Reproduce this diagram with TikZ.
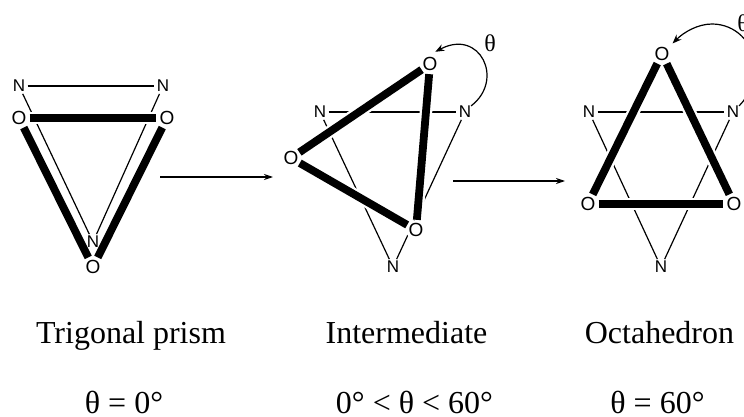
\documentclass[tikz,border=0pt]{standalone}
\usepackage{fontspec}
\setmainfont{Liberation Serif}
\newfontfamily\atomfont{Liberation Sans}
\usetikzlibrary{arrows.meta,backgrounds}
\tikzset{
  x=1pt,y=-1pt,
  atomN/.style={circle,inner sep=0pt,minimum size=16pt,font=\atomfont\fontsize{17}{18}\selectfont},
  atomO/.style={circle,inner sep=0pt,minimum size=21pt,fill=white,font=\atomfont\fontsize{19}{20}\selectfont},
  thinbond/.style={line width=1.2pt,black},
  halo/.style={line width=12.5pt,white},
  bar/.style={line width=7.8pt,black},
  reaction/.style={line width=1.2pt,-{Stealth[length=9pt,width=6pt]}},
  twist/.style={line width=1.2pt,-{Stealth[length=9pt,width=7pt]}},
  caption/.style={font=\fontsize{32}{36}\selectfont,inner sep=0pt,anchor=base},
  angle/.style={font=\fontsize{24}{26}\selectfont,inner sep=0pt}
}
\begin{document}
\begin{tikzpicture}
\useasboundingbox (0,0) rectangle (744,417);
% panel 1
\node[atomN] (an) at (19,86) {N};
\node[atomN] (bn) at (163,86) {N};
\node[atomN] (cn) at (93,242) {N};
\node[atomO] (ao) at (19,118) {O};
\node[atomO] (bo) at (167,118) {O};
\node[atomO] (co) at (93,267) {O};
% panel 2
\node[atomN] (dn) at (320,112) {N};
\node[atomN] (en) at (465,112) {N};
\node[atomN] (fn) at (393,267) {N};
\node[atomO,minimum size=18pt] (do) at (430,64) {O};
\node[atomO,minimum size=18pt] (eo) at (291,158) {O};
\node[atomO,minimum size=20pt] (fo) at (416,230) {O};
% panel 3
\node[atomN] (gn) at (589,112) {N};
\node[atomN] (hn) at (733,112) {N};
\node[atomN] (in) at (661,267) {N};
\node[atomO] (go) at (662,54) {O};
\node[atomO] (ho) at (588,204) {O};
\node[atomO] (io) at (734,204) {O};
\begin{scope}[on background layer]
  \draw[thinbond] (an) -- (bn);
  \draw[thinbond] (an) -- (cn);
  \draw[thinbond] (bn) -- (cn);
  \draw[thinbond] (dn) -- (en);
  \draw[thinbond] (dn) -- (fn);
  \draw[thinbond] (en) -- (fn);
  \draw[thinbond] (gn) -- (hn);
  \draw[thinbond] (gn) -- (in);
  \draw[thinbond] (hn) -- (in);
  \foreach \p/\q in {ao/bo,ao/co,bo/co,do/eo,eo/fo,do/fo,go/ho,go/io,ho/io}
    \draw[halo] (\p) -- (\q);
\end{scope}
\foreach \p/\q in {ao/bo,ao/co,bo/co,do/eo,eo/fo,do/fo,go/ho,go/io,ho/io}
  \draw[bar] (\p) -- (\q);
% reaction arrows
\coordinate (r1a) at (160,177);
\coordinate (r1b) at (273,177);
\coordinate (r2a) at (453,181);
\coordinate (r2b) at (565,181);
\draw[reaction] (r1a) -- (r1b);
\draw[reaction] (r2a) -- (r2b);
% twist arrows
\draw[twist] (en.45) .. controls (505,80) and (480,28) .. ([shift={(1,-3)}]do.65);
\draw[twist] (hn.45) .. controls (750,95) and (754,80) .. (754,66)
  .. controls (754,42) and (735,24) .. (712,24)
  .. controls (698,24) and (684,32) .. ([shift={(3,-3)}]go.45);
\node[angle] (t1) at (490,43) {θ};
\node[angle] (t2) at (743,23) {θ};
% captions
\node[caption] (c1) at (131,343) {Trigonal prism};
\node[caption] (c2) at (406.5,343) {Intermediate};
\node[caption] (c3) at (659.5,343) {Octahedron};
\node[caption] (d1) at (124,413.5) {θ = 0°};
\node[caption] (d2) at (414.5,413.5) {0° < θ < 60°};
\node[caption] (d3) at (657.5,413.5) {θ = 60°};
\end{tikzpicture}
\end{document}
